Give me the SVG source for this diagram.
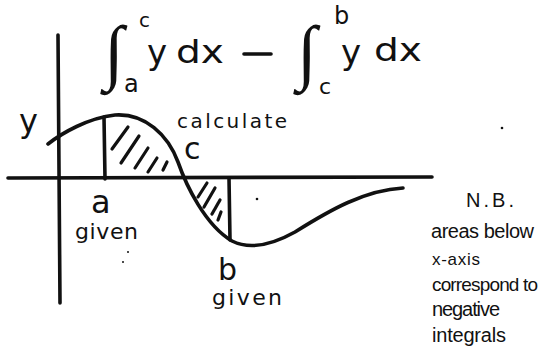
<svg xmlns="http://www.w3.org/2000/svg" width="557" height="360" viewBox="0 0 557 360">
<style>
.ln{fill:none;stroke:#111;stroke-width:3.6;stroke-linecap:round;stroke-linejoin:round}
.ht{fill:none;stroke:#111;stroke-width:3.2;stroke-linecap:round}
.t{font-family:"DejaVu Sans","Liberation Sans",sans-serif;fill:#111}
.n{font-family:"Liberation Sans",Arial,sans-serif;fill:#111}
.int{font-family:"Liberation Serif","Times New Roman",serif;fill:#111}
.dot{fill:#111}
</style>
<rect width="557" height="360" fill="#fff"/>
<g id="formula">
<text class="int" x="104" y="76" font-size="72">∫</text>
<text class="t" x="139" y="27" font-size="20">c</text>
<text class="t" x="124" y="92" font-size="24">a</text>
<text class="t" x="147" y="64" font-size="34">y</text>
<text class="t" x="176" y="63" font-size="32" textLength="48" lengthAdjust="spacingAndGlyphs">dx</text>
<line class="ln" x1="244" y1="54" x2="271" y2="54"/>
<text class="int" x="297" y="76" font-size="72">∫</text>
<text class="t" x="334" y="24" font-size="24">b</text>
<text class="t" x="319" y="94" font-size="22">c</text>
<text class="t" x="341" y="64" font-size="34">y</text>
<text class="t" x="374" y="61" font-size="32" textLength="48" lengthAdjust="spacingAndGlyphs">dx</text>
</g>
<g id="axes">
<line class="ln" x1="58" y1="35" x2="60" y2="303"/>
<line class="ln" x1="8" y1="178" x2="432" y2="177"/>
</g>
<g id="curve">
<path class="ln" d="M48,144 C62,133 88,118 115,115 C145,113 168,135 178,162 C186,185 205,225 232,241 C248,249 270,246 295,232 C330,210 365,190 403,188"/>
<line class="ln" x1="104" y1="117" x2="105" y2="179"/>
<line class="ln" x1="229" y1="178" x2="230" y2="240"/>
</g>
<g id="hatching">
<line class="ht" x1="112" y1="149" x2="128" y2="127"/>
<line class="ht" x1="121" y1="163" x2="139" y2="136"/>
<line class="ht" x1="135" y1="168" x2="148" y2="148"/>
<line class="ht" x1="148" y1="172" x2="157" y2="158"/>
<line class="ht" x1="163" y1="170" x2="167" y2="162"/>
<line class="ht" x1="198" y1="197" x2="207" y2="183"/>
<line class="ht" x1="204" y1="207" x2="215" y2="188"/>
<line class="ht" x1="212" y1="214" x2="220" y2="200"/>
<line class="ht" x1="218" y1="220" x2="221" y2="212"/>
</g>
<g id="labels">
<text class="t" x="19" y="132" font-size="32">y</text>
<text class="t" x="177" y="128" font-size="20" textLength="110" lengthAdjust="spacing">calculate</text>
<text class="t" x="184" y="159" font-size="30">c</text>
<text class="t" x="91" y="213" font-size="32">a</text>
<text class="t" x="75" y="239" font-size="22" textLength="63" lengthAdjust="spacing">given</text>
<text class="t" x="218" y="280" font-size="30">b</text>
<text class="t" x="212" y="305" font-size="22" textLength="70" lengthAdjust="spacing">given</text>
</g>
<g id="note">
<text class="n" x="466" y="207" font-size="20" textLength="48" lengthAdjust="spacing">N.B.</text>
<text class="n" x="431" y="238" font-size="20" textLength="103" lengthAdjust="spacing">areas below</text>
<text class="n" x="432" y="265" font-size="17" textLength="48" lengthAdjust="spacing">x-axis</text>
<text class="n" x="432" y="291" font-size="19" textLength="106" lengthAdjust="spacing">correspond to</text>
<text class="n" x="432" y="316" font-size="20" textLength="68" lengthAdjust="spacing">negative</text>
<text class="n" x="432" y="342" font-size="20" textLength="74" lengthAdjust="spacing">integrals</text>
</g>
<g id="specks">
<circle class="dot" cx="502" cy="128" r="1.3"/>
<circle class="dot" cx="257" cy="199" r="1.3"/>
<circle class="dot" cx="128" cy="252" r="1"/>
<circle class="dot" cx="123" cy="262" r="1"/>
</g>
</svg>
